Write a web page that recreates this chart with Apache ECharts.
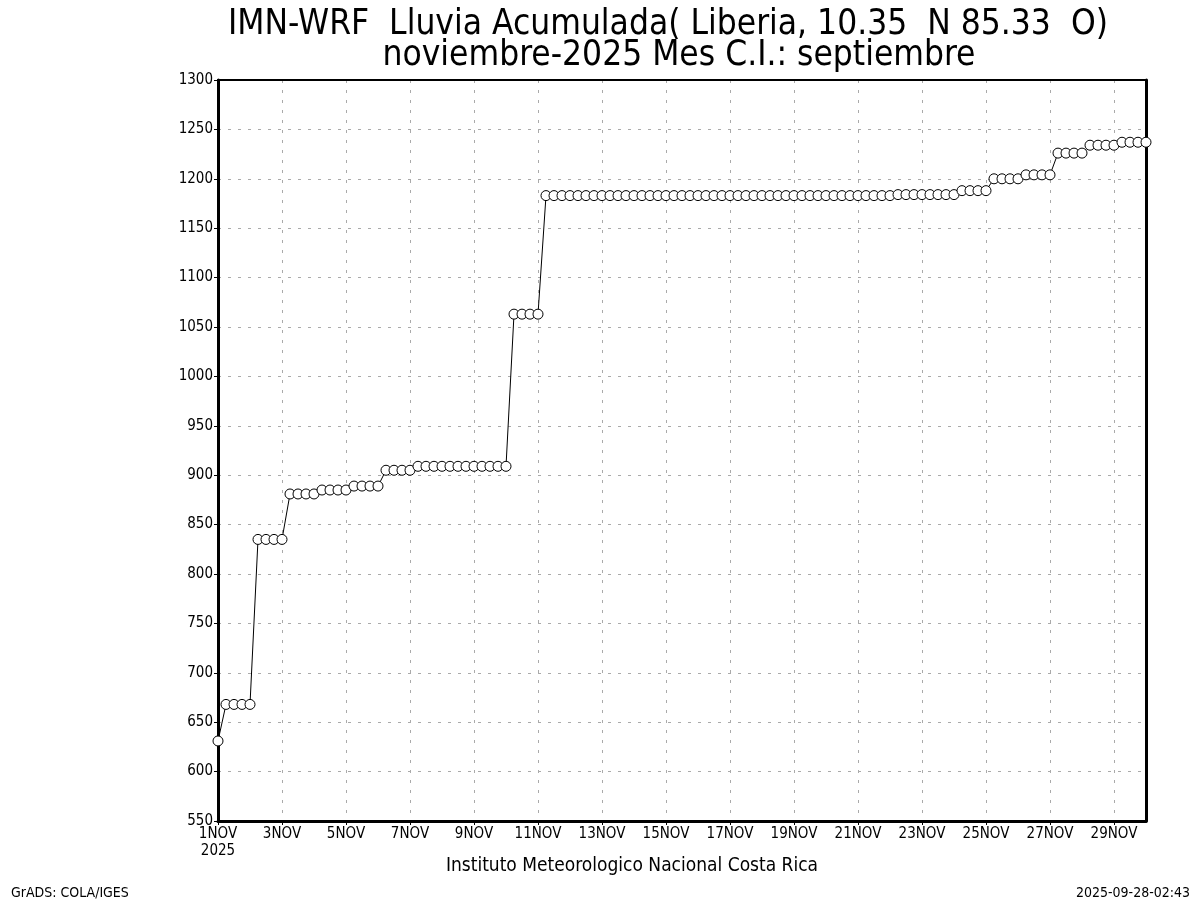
<!DOCTYPE html>
<html>
<head>
<meta charset="utf-8">
<script src="https://cdn.jsdelivr.net/npm/echarts@6/dist/echarts.min.js"></script>
<style>
html,body{margin:0;padding:0;background:#fff;}
#c{width:1200px;height:900px;}
</style>
</head>
<body>
<div id="c"></div>
<script>
// 6-hourly accumulated rainfall (mm), 1 NOV 00Z .. 30 NOV 00Z
var rain = [
  631,
  668, 668, 668, 668,
  835, 835, 835, 835,
  881, 881, 881, 881,
  885, 885, 885, 885,
  889, 889, 889, 889,
  905, 905, 905, 905,
  909, 909, 909, 909, 909, 909, 909, 909, 909, 909, 909, 909,
  1063, 1063, 1063, 1063,
  1183, 1183, 1183, 1183, 1183, 1183, 1183, 1183, 1183, 1183, 1183,
  1183, 1183, 1183, 1183, 1183, 1183, 1183, 1183, 1183, 1183, 1183,
  1183, 1183, 1183, 1183, 1183, 1183, 1183, 1183, 1183, 1183, 1183,
  1183, 1183, 1183, 1183, 1183, 1183, 1183, 1183, 1183, 1183, 1183,
  1184, 1184, 1184, 1184, 1184, 1184, 1184, 1184,
  1188, 1188, 1188, 1188,
  1200, 1200, 1200, 1200,
  1204, 1204, 1204, 1204,
  1226, 1226, 1226, 1226,
  1234, 1234, 1234, 1234,
  1237, 1237, 1237, 1237
];
var dayTickLabels = ['1NOV\n2025','3NOV','5NOV','7NOV','9NOV','11NOV','13NOV','15NOV',
  '17NOV','19NOV','21NOV','23NOV','25NOV','27NOV','29NOV'];
var hours = ['00Z','06Z','12Z','18Z'];
var times = [];
for (var i = 0; i < rain.length; i++) {
  times.push(hours[i % 4] + (Math.floor(i / 4) + 1) + 'NOV');
}
var yMin = 550, yMax = 1300, yStep = 50;

var font = "'Liberation Sans Narrow','DejaVu Sans Condensed','Liberation Sans',sans-serif";
var chart = echarts.init(document.getElementById('c'), null, {renderer:'canvas'});
chart.setOption({
  animation:false,
  backgroundColor:'#fff',
  title:[
    {text:'IMN-WRF  Lluvia Acumulada( Liberia, 10.35  N 85.33  O)', left:663, top:2, textAlign:'center',
      textStyle:{fontFamily:font, fontWeight:'normal', fontSize:35, color:'#000'}},
    {text:'noviembre-2025 Mes C.I.: septiembre', left:674, top:33, textAlign:'center',
      textStyle:{fontFamily:font, fontWeight:'normal', fontSize:35, color:'#000'}},
    {text:'Instituto Meteorologico Nacional Costa Rica', left:627, top:852, textAlign:'center',
      textStyle:{fontFamily:font, fontWeight:'normal', fontSize:19, color:'#000'}},
    {text:'GrADS: COLA/IGES', left:6, top:881,
      textStyle:{fontFamily:font, fontWeight:'normal', fontSize:14, color:'#000'}},
    {text:'2025-09-28-02:43', right:5, top:881,
      textStyle:{fontFamily:font, fontWeight:'normal', fontSize:14, color:'#000'}}
  ],
  grid:{left:218, right:54, top:80, bottom:79, show:false},
  xAxis:[{
    type:'category', data:times, boundaryGap:false,
    axisLine:{show:true, lineStyle:{color:'#000', width:3}},
    axisTick:{show:true, interval:7, length:4, lineStyle:{color:'#000'}},
    axisLabel:{interval:7, color:'#000', fontFamily:font, fontSize:15, margin:5, lineHeight:17,
      formatter:function(v, idx){ return dayTickLabels[idx/8] || ''; }},
    splitLine:{show:true, interval:7, lineStyle:{color:'#aaa', type:[3,7], width:1}}
  },{
    type:'category', data:times, boundaryGap:false, position:'top',
    axisLine:{show:true, lineStyle:{color:'#000', width:2}},
    axisTick:{show:false}, axisLabel:{show:false}, splitLine:{show:false}
  }],
  yAxis:[{
    type:'value', min:yMin, max:yMax, interval:yStep,
    axisLine:{show:true, lineStyle:{color:'#000', width:3}},
    axisTick:{show:true, length:4, lineStyle:{color:'#000'}},
    axisLabel:{color:'#000', fontFamily:font, fontSize:15, margin:5,
      formatter:function(v){ return String(v); }},
    splitLine:{show:true, lineStyle:{color:'#aaa', type:[3,7], width:1}}
  },{
    type:'value', min:yMin, max:yMax, interval:yStep, position:'right',
    axisLine:{show:true, lineStyle:{color:'#000', width:3}},
    axisTick:{show:false}, axisLabel:{show:false}, splitLine:{show:false}
  }],
  series:[{
    type:'line', data:rain,
    symbol:'circle', symbolSize:10, showAllSymbol:true,
    lineStyle:{color:'#000', width:1},
    itemStyle:{color:'#fff', borderColor:'#000', borderWidth:1},
    clip:true
  }]
});
</script>
</body>
</html>
